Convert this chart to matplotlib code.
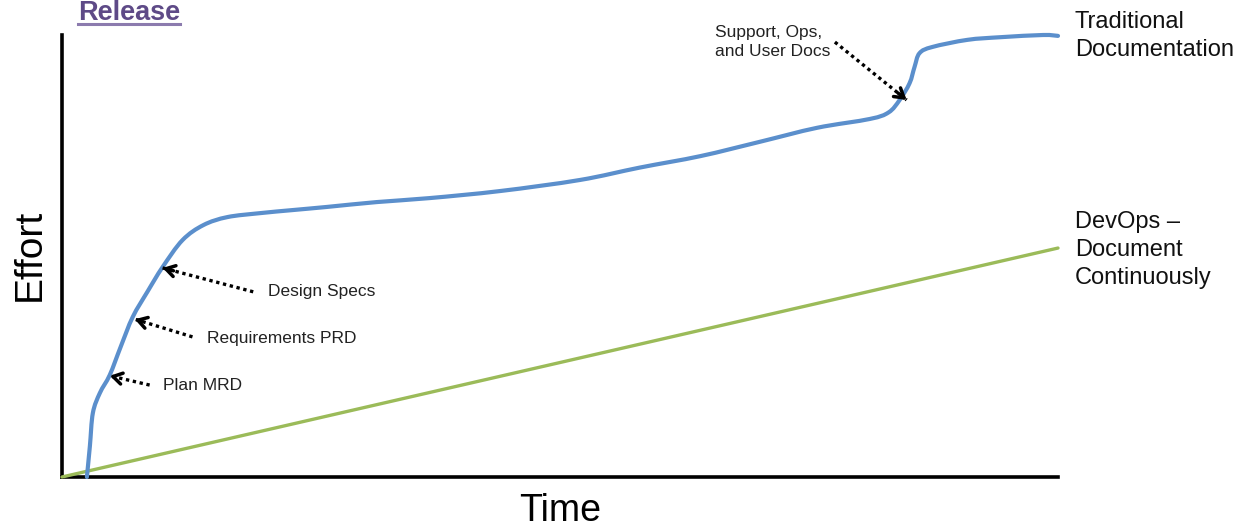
import matplotlib.pyplot as plt
from matplotlib.path import Path
from matplotlib.patches import PathPatch

plt.rcParams['font.family'] = ['Liberation Sans', 'DejaVu Sans']

# traditional documentation effort curve (time, effort), 0..100 scale
trad_time = [2.5, 2.8, 3.1, 3.8, 4.8, 5.9, 7.1, 8.6, 10.1, 12.1, 14.2, 16.6, 19.9,
             23.2, 26.6, 31.6, 36.9, 44.0, 52.0, 58.0, 64.1, 70.0, 75.8, 81.1,
             83.0, 84.1, 85.1, 85.6, 86.1, 87.4, 90.9, 94.2, 98.5, 100.0]
trad_effort = [0.0, 7.0, 14.5, 19.0, 23.1, 29.5, 36.2, 42.0, 47.5, 53.6, 57.0, 58.8,
               59.7, 60.4, 61.1, 62.2, 63.1, 64.7, 67.2, 70.0, 72.6, 75.8, 79.0,
               81.0, 82.5, 85.3, 89.1, 92.8, 95.9, 97.3, 98.9, 99.5, 100.0, 99.8]

# devops: straight line
devops_time = [0, 100]
devops_effort = [0, 51.8]

# annotations: label, arrow head (on curve), arrow tail, text position
notes = [
    ("Plan MRD", (4.8, 22.9), (8.8, 20.8), (10.1, 20.8)),
    ("Requirements PRD", (7.3, 35.7), (13.1, 31.7), (14.6, 31.4)),
    ("Design Specs", (10.1, 47.3), (19.2, 41.9), (20.7, 41.9)),
]
support_label = "Support, Ops,\nand User Docs"
support_head = (84.8, 85.3)
support_tail = (77.6, 98.4)
support_text = (65.6, 98.4)

blue = '#5B8FCC'
green = '#9BBB59'

fig = plt.figure(figsize=(12.45, 5.29), dpi=100)
ax = fig.add_axes([62 / 1245, 52 / 529, 996 / 1245, 442 / 529])
ax.set_xlim(0, 100)
ax.set_ylim(0, 100)
ax.set_xticks([])
ax.set_yticks([])
for s in ['top', 'right']:
    ax.spines[s].set_visible(False)
for s in ['left', 'bottom']:
    ax.spines[s].set_linewidth(2.6)
    ax.spines[s].set_color('black')

ax.plot(devops_time, devops_effort, color=green, lw=2.4, clip_on=False,
        solid_capstyle='round', zorder=3)

# smooth curve through the read points (catmull-rom -> bezier)
pts = list(zip(trad_time, trad_effort))
verts = [pts[0]]
codes = [Path.MOVETO]
for i in range(len(pts) - 1):
    p0 = pts[i - 1] if i > 0 else pts[i]
    p1 = pts[i]
    p2 = pts[i + 1]
    p3 = pts[i + 2] if i + 2 < len(pts) else pts[i + 1]
    c1 = (p1[0] + (p2[0] - p0[0]) / 6, p1[1] + (p2[1] - p0[1]) / 6)
    c2 = (p2[0] - (p3[0] - p1[0]) / 6, p2[1] - (p3[1] - p1[1]) / 6)
    verts += [c1, c2, p2]
    codes += [Path.CURVE4] * 3
curve = PathPatch(Path(verts, codes), facecolor='none', edgecolor=blue, lw=3.0,
                  capstyle='round', joinstyle='round', clip_on=False, zorder=4)
ax.add_patch(curve)


def dotted_arrow(head, tail):
    ax.plot([tail[0], head[0]], [tail[1], head[1]], color='black', lw=2.4,
            linestyle=(0, (1, 1.1)), clip_on=False, zorder=5)
    # solid head: short segment near the tip
    dx = tail[0] - head[0]
    dy = tail[1] - head[1]
    start = (head[0] + dx * 0.12, head[1] + dy * 0.12)
    ax.annotate('', xy=head, xytext=start,
                arrowprops=dict(arrowstyle='->,head_length=0.65,head_width=0.4',
                                color='black', lw=2.5, shrinkA=0, shrinkB=0),
                annotation_clip=False, zorder=6)


for label, head, tail, pos in notes:
    dotted_arrow(head, tail)
    ax.text(pos[0], pos[1], label, fontsize=12.5, ha='left', va='center',
            color='#222222', clip_on=False)

dotted_arrow(support_head, support_tail)
ax.text(support_text[0], support_text[1], support_label, fontsize=12.5, ha='left',
        va='center', color='#222222', linespacing=1.35, clip_on=False)

ax.text(101.7, 99.8, "Traditional\nDocumentation", fontsize=17, ha='left',
        va='center', color='#111111', linespacing=1.35, clip_on=False)
ax.text(101.7, 51.4, "DevOps –\nDocument\nContinuously", fontsize=17, ha='left',
        va='center', color='#111111', linespacing=1.35, clip_on=False)

ax.text(-3.2, 50.2, "Effort", fontsize=28, rotation=90, ha='center', va='center',
        clip_on=False)
ax.text(50, -7.6, "Time", fontsize=27, ha='center', va='center', clip_on=False)

rel = ax.text(1.6, 103.3, "Release", fontsize=19.5, fontweight='bold', color='#5E4A87',
              ha='left', va='baseline', clip_on=False)
fig.canvas.draw()
bb = rel.get_window_extent().transformed(ax.transData.inverted())
ax.plot([bb.x0, bb.x1], [102.5, 102.5], color='#8C7BAE', lw=2.2, clip_on=False)

fig.savefig('out.png', dpi=100)
